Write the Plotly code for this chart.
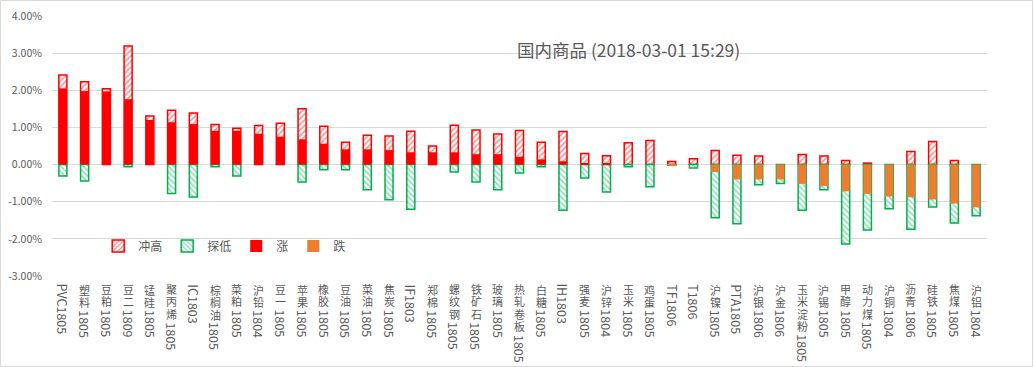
import plotly.graph_objects as go

categories = ["PVC1805", "塑料1805", "豆粕1805", "豆二1809", "锰硅1805", "聚丙烯1805", "IC1803",
              "棕榈油1805", "菜粕1805", "沪铅1804", "豆一1805", "苹果1805", "橡胶1805", "豆油1805",
              "菜油1805", "焦炭1805", "IF1803", "郑棉1805", "螺纹钢1805", "铁矿石1805", "玻璃1805",
              "热轧卷板1805", "白糖1805", "IH1803", "强麦1805", "沪锌1804", "玉米1805", "鸡蛋1805",
              "TF1806", "T1806", "沪镍1805", "PTA1805", "沪银1806", "沪金1806", "玉米淀粉1805",
              "沪锡1805", "甲醇1805", "动力煤1805", "沪铜1804", "沥青1806", "硅铁1805", "焦煤1805",
              "沪铝1804"]

high_pct = [2.41, 2.23, 2.04, 3.19, 1.31, 1.46, 1.39, 1.08, 0.98, 1.05, 1.11, 1.50, 1.03, 0.60,
            0.79, 0.77, 0.90, 0.50, 1.06, 0.93, 0.82, 0.92, 0.60, 0.89, 0.30, 0.24, 0.59, 0.65,
            0.08, 0.16, 0.38, 0.25, 0.23, 0.00, 0.27, 0.23, 0.11, 0.04, 0.00, 0.35, 0.62, 0.11, 0.00]

close_pct = [2.05, 1.98, 1.97, 1.76, 1.20, 1.14, 1.09, 0.91, 0.91, 0.83, 0.75, 0.68, 0.56, 0.41,
             0.41, 0.39, 0.33, 0.33, 0.33, 0.28, 0.28, 0.21, 0.14, 0.09, 0.03, 0.02, 0.00, 0.00,
             -0.02, 0.00, -0.20, -0.40, -0.40, -0.40, -0.52, -0.58, -0.72, -0.79, -0.86, -0.88,
             -0.94, -1.05, -1.15]

low_pct = [-0.31, -0.44, 0.00, -0.06, 0.00, -0.78, -0.87, -0.06, -0.31, 0.00, 0.00, -0.47, -0.14,
           -0.14, -0.68, -0.95, -1.20, 0.00, -0.20, -0.47, -0.68, -0.23, -0.06, -1.23, -0.36, -0.74,
           -0.06, -0.60, -0.02, -0.09, -1.43, -1.59, -0.54, -0.51, -1.23, -0.68, -2.14, -1.76, -1.19,
           -1.74, -1.14, -1.57, -1.38]

y_ticks = [4, 3, 2, 1, 0, -1, -2, -3]
title_text = "国内商品 (2018-03-01 15:29)"

RED = "#FF0000"
GREEN = "#00B050"
ORANGE = "#ED7D31"
GRAY = "#595959"
FONT = "Noto Sans CJK SC"
STACK_FONT = "Liberation Sans, Noto Sans CJK SC"


def nz(v):
    return [x if abs(x) > 1e-9 else None for x in v]


up_vals = nz([max(c, 0) for c in close_pct])
down_vals = nz([min(c, 0) for c in close_pct])

fig = go.Figure()
fig.add_trace(go.Bar(
    x=categories, y=nz(high_pct), name="冲高",
    marker=dict(color="white", line=dict(color=RED, width=1.5),
                pattern=dict(shape="/", fgcolor=RED, bgcolor="white", size=4, solidity=0.35)),
))
fig.add_trace(go.Bar(
    x=categories, y=nz(low_pct), name="探低",
    marker=dict(color="white", line=dict(color=GREEN, width=1.5),
                pattern=dict(shape="\\", fgcolor=GREEN, bgcolor="white", size=4, solidity=0.35)),
))
fig.add_trace(go.Bar(
    x=categories, y=up_vals, name="涨",
    marker=dict(color=RED, line=dict(width=0)),
))
fig.add_trace(go.Bar(
    x=categories, y=down_vals, name="跌",
    marker=dict(color=ORANGE, line=dict(width=0)),
))

# ---- vertical category labels: CJK stacked upright, latin part rotated ----
GW = {"I": 0.28, "T": 0.55, "F": 0.54, "H": 0.72, "P": 0.62, "V": 0.58, "C": 0.6, "A": 0.6}
CJK_FS = 11            # rendered size of the stacked characters
PITCH = 12.3           # vertical pitch between stacked characters
OUTER_FS = PITCH / 1.3 # plotly line spacing is 1.3em of the outer font
LAT_FS = 12.5
annotations = []
for cat in categories:
    i = 0
    while i < len(cat) and ord(cat[i]) > 0x2E80:
        i += 1
    cjk, latin = cat[:i], cat[i:]
    n = len(cjk)
    if n:
        txt = "<br>".join(f'<span style="font-size:{CJK_FS}px">{c}</span>' for c in cjk)
        annotations.append(dict(
            x=cat, xref="x", y=0, yref="paper", yanchor="top", xanchor="center",
            yshift=-8.4, text=txt, showarrow=False, borderpad=0, borderwidth=0,
            font=dict(family=STACK_FONT, size=OUTER_FS, color=GRAY)))
    if latin:
        length = sum(GW.get(c, 0.554) for c in latin) * LAT_FS
        start = 8.3 if n == 0 else 9.4 + n * PITCH
        annotations.append(dict(
            x=cat, xref="x", y=0, yref="paper", yanchor="middle", xanchor="center",
            yshift=-(start + length / 2), text=latin, textangle=90,
            showarrow=False, borderpad=0, borderwidth=0,
            font=dict(family=FONT, size=LAT_FS, color=GRAY)))

annotations.append(dict(
    x=0.6166, y=0.873, xref="paper", yref="paper", xanchor="center", yanchor="middle",
    text=title_text, showarrow=False, font=dict(family=FONT, size=17.5, color=GRAY)))

fig.update_layout(
    width=1034, height=367,
    margin=dict(l=52, r=47, t=16, b=91, autoexpand=False),
    paper_bgcolor="white", plot_bgcolor="white",
    barmode="overlay", bargap=0.63,
    font=dict(family=FONT, color=GRAY),
    showlegend=True,
    legend=dict(orientation="h", x=0.0494, xanchor="left", y=0.115, yanchor="middle",
                font=dict(family=FONT, size=12, color=GRAY), bgcolor="rgba(0,0,0,0)",
                traceorder="normal"),
    annotations=annotations,
    shapes=[dict(type="rect", xref="paper", yref="paper", x0=-0.0551, x1=1.0487,
                 y0=-0.348, y1=1.0596, line=dict(color="#D9D9D9", width=1), layer="below")],
)
fig.update_xaxes(showticklabels=False, showgrid=False, zeroline=False, showline=False,
                 type="category")
fig.update_yaxes(range=[-3, 4], tickvals=y_ticks,
                 ticktext=[f"{v:.2f}%" for v in y_ticks],
                 showgrid=True, gridcolor="#D9D9D9", gridwidth=1, zeroline=False,
                 showline=False, ticks="outside", ticklen=7, tickcolor="rgba(0,0,0,0)",
                 tickfont=dict(family=FONT, size=10.5, color=GRAY))

fig.write_html("out.html", config={"displayModeBar": False},
               post_script="document.body.style.margin='0';")
